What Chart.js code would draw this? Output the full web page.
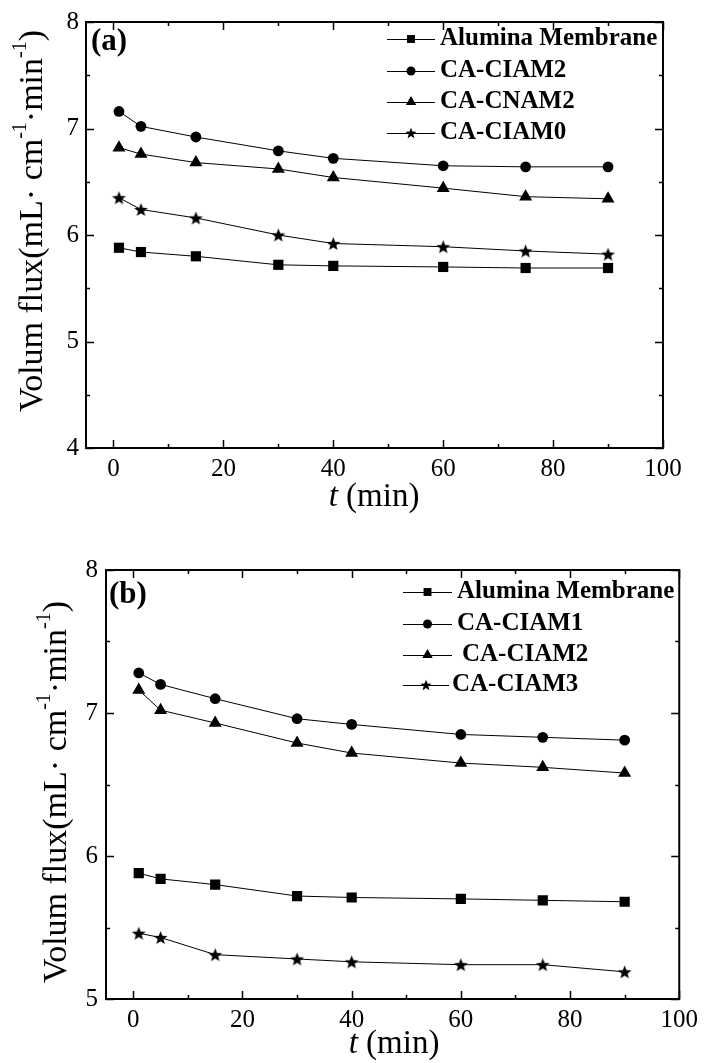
<!DOCTYPE html>
<html><head><meta charset="utf-8">
<script src="https://cdn.jsdelivr.net/npm/chart.js@4.4.0/dist/chart.umd.min.js"></script>
<style>
html,body{margin:0;padding:0;background:#fff;}
#wrap{position:relative;width:704px;height:1063px;overflow:hidden;}
canvas{position:absolute;left:0;}
</style></head><body>
<div id="wrap">
<canvas id="c1" width="704" height="530" style="top:0px"></canvas>
<canvas id="c2" width="704" height="533" style="top:530px"></canvas>
</div>
<script>
// ---------- data ----------
const timeMin = [1, 5, 15, 30, 40, 60, 75, 90];
const xTicks = [0, 20, 40, 60, 80, 100];
const xMinorTicks = [10, 30, 50, 70, 90];
const yTicksA = [4, 5, 6, 7, 8];
const yMinorA = [4.5, 5.5, 6.5, 7.5];
const yTicksB = [5, 6, 7, 8];
const yMinorB = [5.5, 6.5, 7.5];

const namesA = ['Alumina Membrane', 'CA-CIAM2', 'CA-CNAM2', 'CA-CIAM0'];
const aluminaA = [5.88, 5.84, 5.80, 5.72, 5.71, 5.70, 5.69, 5.69];
const ciam2A   = [7.16, 7.02, 6.92, 6.79, 6.72, 6.65, 6.64, 6.64];
const cnam2A   = [6.82, 6.76, 6.68, 6.62, 6.54, 6.44, 6.36, 6.34];
const ciam0A   = [6.35, 6.24, 6.16, 6.00, 5.92, 5.89, 5.85, 5.82];

const namesB = ['Alumina Membrane', 'CA-CIAM1', 'CA-CIAM2', 'CA-CIAM3'];
const aluminaB = [5.88, 5.84, 5.80, 5.72, 5.71, 5.70, 5.69, 5.68];
const ciam1B   = [7.28, 7.20, 7.10, 6.96, 6.92, 6.85, 6.83, 6.81];
const ciam2B   = [7.16, 7.02, 6.93, 6.79, 6.72, 6.65, 6.62, 6.58];
const ciam3B   = [5.46, 5.43, 5.31, 5.28, 5.26, 5.24, 5.24, 5.19];

// ---------- styling ----------
const SERIF = '"Liberation Serif", "Times New Roman", Times, serif';

function makeStar(outer, inner) {
  const size = Math.ceil(outer * 2) + 2;
  const c = document.createElement('canvas');
  c.width = size; c.height = size;
  const g = c.getContext('2d');
  g.fillStyle = '#000';
  g.beginPath();
  const cx = size / 2, cy = size / 2 + outer * 0.1;
  for (let k = 0; k < 10; k++) {
    const r = (k % 2) ? inner : outer;
    const a = -Math.PI / 2 + k * Math.PI / 5;
    const px = cx + r * Math.cos(a), py = cy + r * Math.sin(a);
    if (k === 0) g.moveTo(px, py); else g.lineTo(px, py);
  }
  g.closePath(); g.fill();
  return c;
}
const starBig = makeStar(7.2, 3.1);
const starSmall = makeStar(5.8, 2.5);

const markerStyles = ['rect', 'circle', 'triangle', starBig];
const markerRadii = [7.2, 5.4, 7.5, 7];
const legendStyles = ['rect', 'circle', 'triangle', starSmall];
const legendRadii = [5.6, 4.5, 6, 5.5];

function drawMarker(ctx, style, r, x, y) {
  ctx.save();
  ctx.fillStyle = '#000'; ctx.strokeStyle = '#000';
  if (Chart.helpers && Chart.helpers.drawPoint) {
    Chart.helpers.drawPoint(ctx, {pointStyle: style, rotation: 0, radius: r, borderWidth: 0}, x, y);
  }
  ctx.restore();
}

function drawTextParts(ctx, parts) {
  let total = 0;
  parts.forEach(p => { ctx.font = p.font; p.w = ctx.measureText(p.t).width; total += p.w; });
  let x = -total / 2;
  parts.forEach(p => {
    ctx.font = p.font;
    ctx.fillText(p.t, x, p.dy || 0);
    x += p.w;
  });
}

function extrasPlugin(cfg) {
  return {
    id: 'extras_' + cfg.id,
    afterDatasetsDraw(chart) {
      const ctx = chart.ctx;
      const xs = chart.scales.x, ys = chart.scales.y;
      const a = chart.chartArea;
      ctx.save();
      ctx.strokeStyle = '#000';
      ctx.fillStyle = '#000';
      // frame
      ctx.lineWidth = 2;
      ctx.strokeRect(a.left, a.top, a.right - a.left, a.bottom - a.top);
      // ticks (inward on all four sides)
      ctx.lineWidth = 1.5;
      ctx.beginPath();
      const xt = (v, len) => {
        const p = Math.round(xs.getPixelForValue(v)) + 0.5;
        ctx.moveTo(p, a.bottom); ctx.lineTo(p, a.bottom - len);
        ctx.moveTo(p, a.top); ctx.lineTo(p, a.top + len);
      };
      const yt = (v, len) => {
        const p = Math.round(ys.getPixelForValue(v)) + 0.5;
        ctx.moveTo(a.left, p); ctx.lineTo(a.left + len, p);
        ctx.moveTo(a.right, p); ctx.lineTo(a.right - len, p);
      };
      xTicks.forEach(v => xt(v, 8));
      xMinorTicks.forEach(v => xt(v, 4));
      cfg.yTicks.forEach(v => yt(v, 8));
      cfg.yMinor.forEach(v => yt(v, 4));
      ctx.stroke();

      // panel label
      ctx.font = 'bold 31px ' + SERIF;
      ctx.textBaseline = 'middle';
      ctx.textAlign = 'left';
      ctx.fillText(cfg.panel, cfg.panelX, cfg.panelY);

      // legend
      const L = cfg.legend;
      chart.data.datasets.forEach((ds, i) => {
        const y = L.rows[i];
        const x0 = L.lineX0[i], x1 = L.lineX1[i];
        ctx.lineWidth = 1;
        ctx.beginPath();
        ctx.moveTo(x0, y + 0.5); ctx.lineTo(x1, y + 0.5);
        ctx.stroke();
        drawMarker(ctx, legendStyles[i], legendRadii[i], (x0 + x1) / 2, y);
        ctx.font = 'bold 25px ' + SERIF;
        ctx.textBaseline = 'middle';
        ctx.textAlign = 'left';
        ctx.fillText(ds.label, L.textX[i], y);
      });

      // y axis title (rotated, with superscripts)
      ctx.save();
      ctx.translate(cfg.yTitleX, cfg.yTitleY);
      ctx.rotate(-Math.PI / 2);
      ctx.textBaseline = 'middle';
      ctx.textAlign = 'left';
      const mf = '34px ' + SERIF, sf = '20px ' + SERIF;
      drawTextParts(ctx, [
        {t: 'Volum flux(mL', font: mf},
        {t: '\u00B7 cm', font: mf},
        {t: '-1', font: sf, dy: -12},
        {t: '\u00B7min', font: mf},
        {t: '-1', font: sf, dy: -12},
        {t: ')', font: mf}
      ]);
      ctx.restore();

      // x axis title
      ctx.save();
      ctx.translate(cfg.xTitleX, cfg.xTitleY);
      ctx.textBaseline = 'middle';
      ctx.textAlign = 'left';
      drawTextParts(ctx, [
        {t: 't', font: 'italic 33px ' + SERIF},
        {t: ' (min)', font: '33px ' + SERIF}
      ]);
      ctx.restore();
      ctx.restore();
    }
  };
}

function makeChart(canvasId, cfg) {
  const datasets = cfg.series.map((vals, i) => ({
    label: cfg.names[i],
    data: vals.map((v, j) => ({x: timeMin[j], y: v})),
    borderColor: '#000',
    backgroundColor: '#000',
    borderWidth: 1,
    pointStyle: markerStyles[i],
    pointRadius: markerRadii[i],
    pointBorderWidth: 0,
    pointBackgroundColor: '#000',
    pointBorderColor: '#000',
    tension: 0,
    fill: false
  }));
  const tickFont = {family: SERIF, size: 25};
  return new Chart(document.getElementById(canvasId), {
    type: 'line',
    data: {datasets},
    options: {
      responsive: false,
      animation: false,
      events: [],
      layout: {padding: cfg.padding},
      plugins: {legend: {display: false}, tooltip: {enabled: false}, title: {display: false}},
      scales: {
        x: {
          type: 'linear', min: -5, max: 100,
          afterBuildTicks: s => { s.ticks = xTicks.map(v => ({value: v})); },
          afterFit: s => { s.height = cfg.xAxisH; },
          grid: {display: false, drawTicks: false},
          border: {display: false},
          ticks: {font: tickFont, color: '#000', padding: cfg.xTickPad, maxRotation: 0, autoSkip: false}
        },
        y: {
          type: 'linear', min: cfg.yMin, max: 8,
          afterBuildTicks: s => { s.ticks = cfg.yTicks.map(v => ({value: v})); },
          afterFit: s => { s.width = cfg.yAxisW; },
          grid: {display: false, drawTicks: false},
          border: {display: false},
          ticks: {font: tickFont, color: '#000', padding: cfg.yTickPad, autoSkip: false}
        }
      }
    },
    plugins: [extrasPlugin(cfg)]
  });
}

makeChart('c1', {
  id: 'a',
  names: namesA,
  series: [aluminaA, ciam2A, cnam2A, ciam0A],
  yMin: 4, yTicks: yTicksA, yMinor: yMinorA,
  padding: {left: 0, right: 41, top: 20, bottom: 0},
  yAxisW: 86, xAxisH: 82, xTickPad: 6, yTickPad: 7,
  panel: '(a)', panelX: 91, panelY: 42,
  legend: {rows: [39, 71, 102, 133], lineX0: [387, 387, 387, 387], lineX1: [435, 435, 435, 435], textX: [440, 440, 440, 440]},
  yTitleX: 33, yTitleY: 221,
  xTitleX: 374, xTitleY: 497
});

makeChart('c2', {
  id: 'b',
  names: namesB,
  series: [aluminaB, ciam1B, ciam2B, ciam3B],
  yMin: 5, yTicks: yTicksB, yMinor: yMinorB,
  padding: {left: 0, right: 21, top: 40, bottom: 0},
  yAxisW: 106, xAxisH: 64, xTickPad: 6, yTickPad: 8,
  panel: '(b)', panelX: 109, panelY: 65,
  legend: {rows: [62, 94, 125, 155], lineX0: [403, 403, 403, 403], lineX1: [452, 452, 452, 449], textX: [457, 457, 462, 452]},
  yTitleX: 57, yTitleY: 262,
  xTitleX: 394, xTitleY: 514
});
</script>
</body></html>
